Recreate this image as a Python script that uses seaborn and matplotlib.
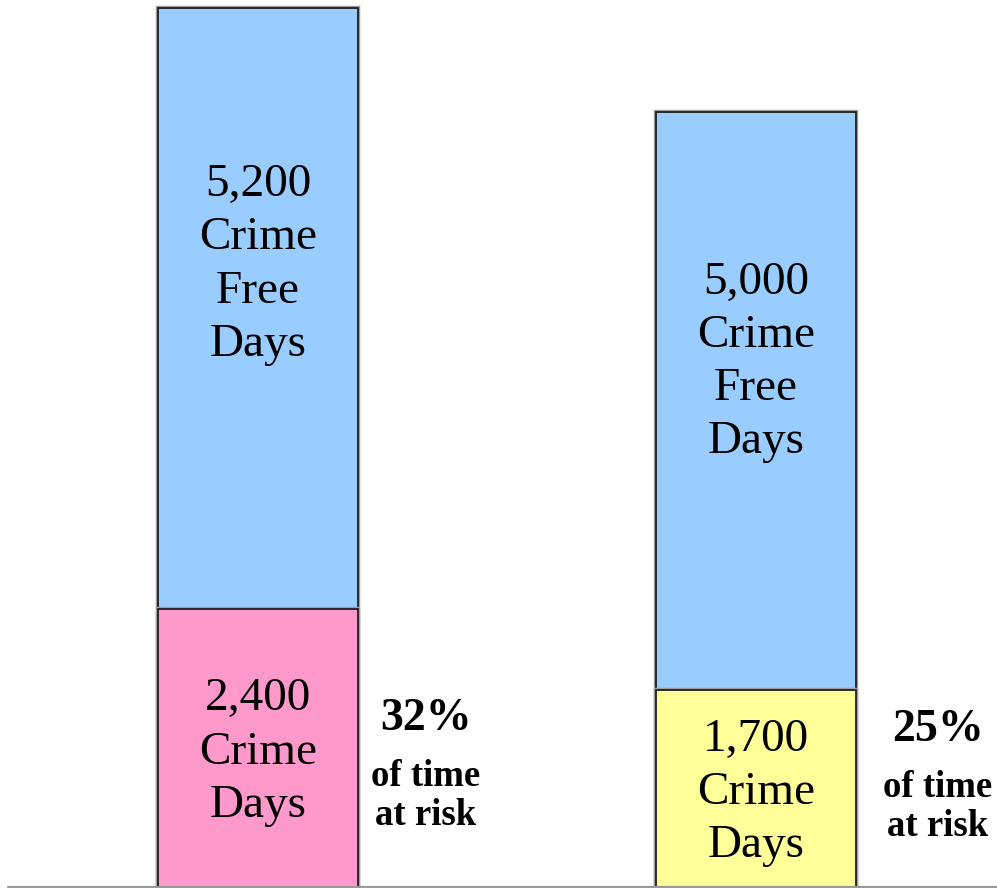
import matplotlib
matplotlib.use("Agg")
import matplotlib.pyplot as plt
import matplotlib.patheffects as pe
import seaborn as sns
import pandas as pd

# data
groups = ["Group 1", "Group 2"]
crime_free_days = [5200, 5000]
crime_days = [2400, 1700]
pct_at_risk = ["32%", "25%"]
low_colors = ["#FF99CC", "#FFFF99"]
free_color = "#99CCFF"

totals = [a + b for a, b in zip(crime_free_days, crime_days)]
df = pd.DataFrame({"group": groups, "free": crime_free_days,
                   "crime": crime_days, "total": totals})

sns.set_theme(style="white")
plt.rcParams["font.family"] = ["Liberation Serif", "DejaVu Serif"]
plt.rcParams["text.color"] = "black"

fig = plt.figure(figsize=(9.97, 8.88), dpi=100)
ax = fig.add_axes([0, 0, 1, 1])

edge = dict(edgecolor="#1e1e1e", linewidth=1.3)
bw = 0.4016
sns.barplot(data=df, x="group", y="total", color=free_color, width=bw,
            saturation=1, ax=ax, **edge)
sns.barplot(data=df, x="group", y="crime", hue="group", palette=low_colors,
            width=bw, saturation=1, legend=False, ax=ax, **edge)
for p in ax.patches:
    p.set_path_effects([pe.Stroke(linewidth=3.2, foreground="#a0a0a0"), pe.Normal()])

# bar labels
txt = dict(ha="center", va="center", fontsize=34, color="black", linespacing=1.33)
free_dy = [380, 337]
for i in range(len(groups)):
    ax.text(i, crime_days[i] + crime_free_days[i] / 2 + free_dy[i],
            f"{crime_free_days[i]:,}\nCrime\nFree\nDays", **txt)
    ax.text(i, crime_days[i] / 2 - 35, f"{crime_days[i]:,}\nCrime\nDays", **txt)

# share of time at risk, beside each bar
pct_dx = [0.337, 0.365]
pct_y = [1455, 1360]
for i in range(len(groups)):
    x = i + pct_dx[i]
    ax.text(x, pct_y[i], pct_at_risk[i], ha="center", va="center",
            fontsize=33, fontweight="bold", color="black")
    ax.text(x, pct_y[i] - 500, "of time", ha="center", va="center",
            fontsize=26.5, fontweight="bold", color="black")
    ax.text(x, pct_y[i] - 837, "at risk", ha="center", va="center",
            fontsize=26.5, fontweight="bold", color="black")

ax.axhline(0, xmin=8 / 997, xmax=1, color="#999999", linewidth=1.6)
ax.set_xlim(-0.518, 1.484)
ax.set_ylim(-8.6, 7669)
ax.axis("off")

fig.savefig("out.png", dpi=100)
